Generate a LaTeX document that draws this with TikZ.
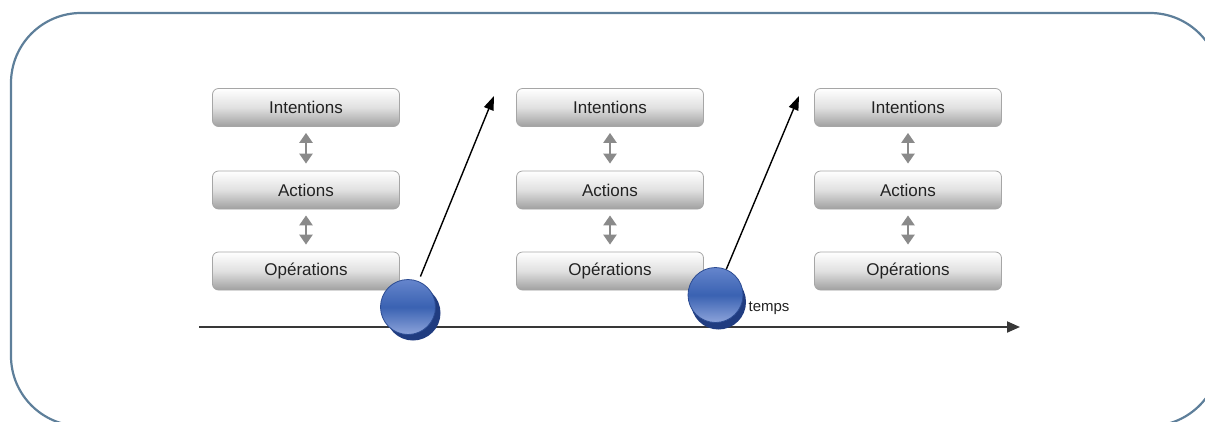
\documentclass[tikz,border=0pt]{standalone}
\usepackage{fontspec}
\setmainfont{Liberation Sans}
\usetikzlibrary{arrows.meta}
\definecolor{frameblue}{HTML}{5E7F9A}
\definecolor{boxborder}{HTML}{A6A6A6}
\definecolor{boxbottom}{HTML}{A0A0A0}
\definecolor{dblarrow}{HTML}{8A8A8A}
\definecolor{ballmid}{HTML}{3A62B2}
\definecolor{balltop}{HTML}{6585CC}
\definecolor{ballbot}{HTML}{8CA3DA}
\definecolor{balledge}{HTML}{2B4B92}
\definecolor{ballshadow}{HTML}{203C80}
\definecolor{textdark}{HTML}{222222}
\begin{document}
\begin{tikzpicture}[x=1pt,y=-1pt,
  levelbox/.style={draw=boxborder, line width=0.8pt, rounded corners=6pt,
    top color=white, bottom color=boxbottom, middle color=white!88!black,
    minimum width=187pt, minimum height=38pt, inner sep=0pt,
    font=\fontsize{17}{19}\selectfont, text=textdark},
  linkarrow/.style={dblarrow, line width=2.5pt,
    {Triangle[width=13pt,length=10pt]}-{Triangle[width=13pt,length=10pt]},
    shorten <=6pt, shorten >=7pt},
  timearrow/.style={draw=black!78, line width=2pt, -{Triangle[width=11pt,length=13pt]}},
  jumparrow/.style={draw=black, line width=1.4pt, -{Triangle[width=10pt,length=14pt]}},
  ballshadowstyle/.style={circle, fill=ballshadow, minimum size=55pt, inner sep=0pt},
  ball/.style={circle, draw=balledge, line width=0.8pt, minimum size=55pt, inner sep=0pt,
    top color=balltop, bottom color=ballbot, middle color=ballmid},
  timelabel/.style={font=\fontsize{15}{17}\selectfont, text=textdark}
]
\useasboundingbox (0,0) rectangle (1205,421);
\begin{scope}
\clip (0,0) rectangle (1205,421);
\draw[frameblue, line width=2.2pt, rounded corners=70pt] (11,13) rectangle (1220,426);
\end{scope}

% columns
\foreach \c/\x in {1/306, 2/610, 3/908}{
  \node[levelbox] (i\c) at (\x,107.5) {Intentions};
  \node[levelbox] (a\c) at (\x,190) {Actions};
  \node[levelbox] (o\c) at (\x,271) {Opérations};
  \draw[linkarrow] (i\c) -- (a\c);
  \draw[linkarrow] (a\c) -- (o\c);
}

% timeline
\coordinate (ts) at (199,327);
\coordinate (te) at (1020,327);
\draw[timearrow] (ts) -- (te);
\node[timelabel] (temps) at (769,308) {temps};

% jump arrows and balls
\coordinate (t1) at (494,96);
\coordinate (t2) at (799,96);
\node[ballshadowstyle] (s1) at (413,313) {};
\node[ballshadowstyle] (s2) at (718.5,302) {};
\node[ball] (c1) at (408,307) {};
\node[ball] (c2) at (715.5,295) {};
\draw[jumparrow, shorten <=5pt] (c1) -- (t1);
\draw[jumparrow] (c2) -- (t2);
\end{tikzpicture}
\end{document}
